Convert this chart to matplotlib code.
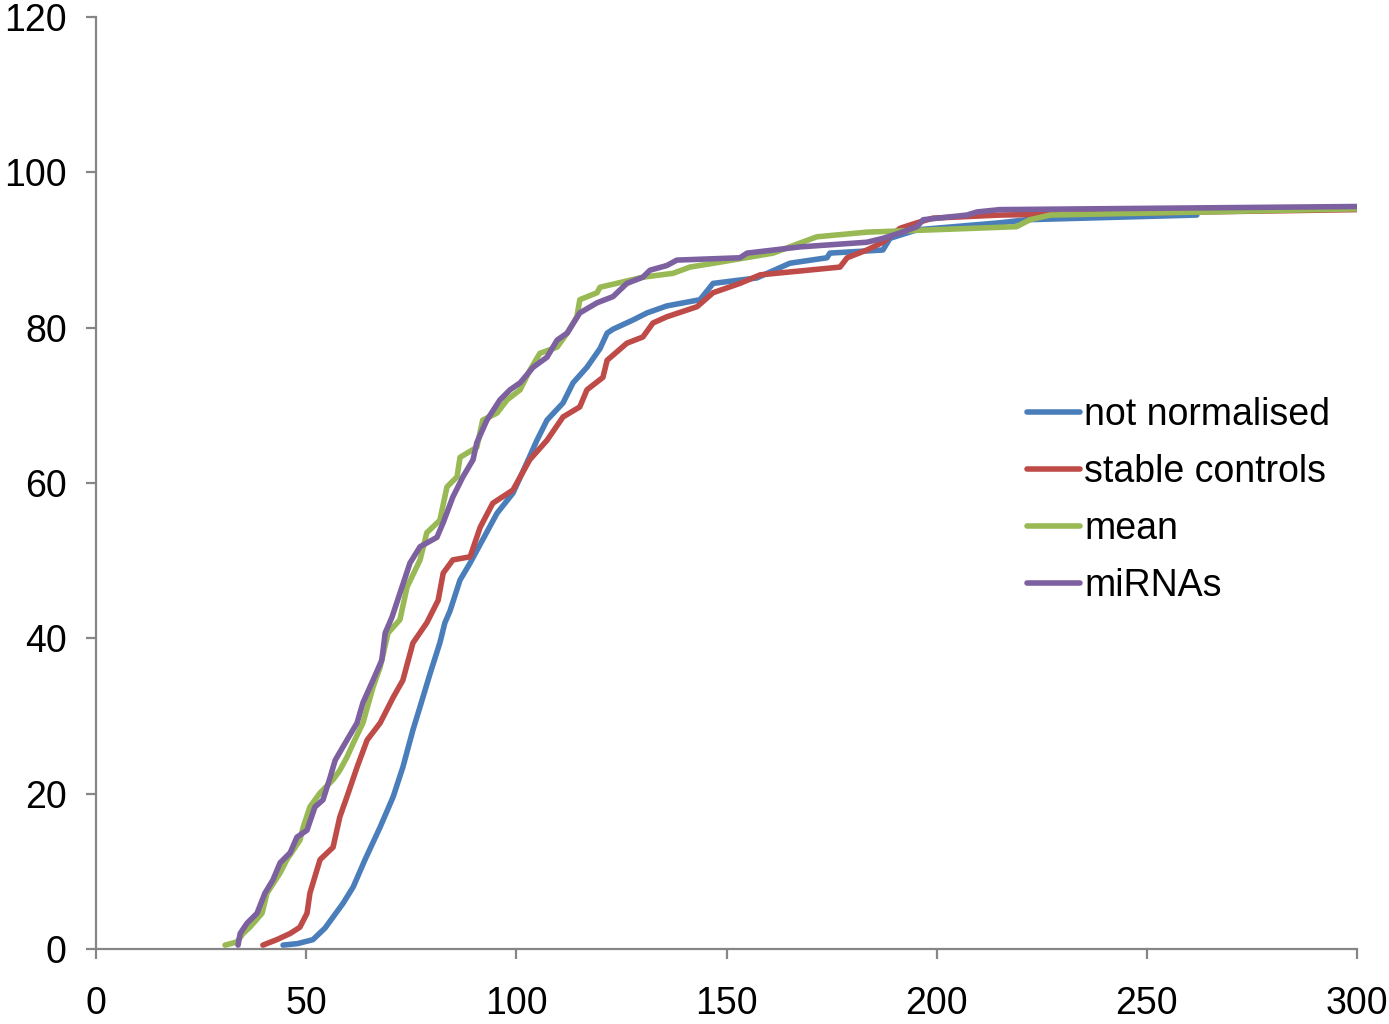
import matplotlib
matplotlib.use("Agg")
import matplotlib.pyplot as plt

# ---- data ----
labels = ["not normalised", "stable controls", "mean", "miRNAs"]
colors = ["#4A7EBB", "#BE4B48", "#98B954", "#7D60A0"]

blue_x = [44.5, 48, 51.6, 54.5, 58.8, 61.2, 64, 67.6, 70.7, 73, 75.4, 77.1, 79.5, 81.8, 83, 84.2, 86.6,
          89, 92, 95.4, 99.2, 102.5, 104.9, 107.3, 111.1, 113.5, 116.8, 119.9, 121.6, 123, 127.8, 131.1,
          135.8, 143.7, 146.8, 157.2, 165.1, 173.9, 174.6, 187.2, 188.9, 195.3, 215, 221.5, 261.9]
blue_y = [0.5, 0.7, 1.2, 2.7, 5.9, 8.0, 11.5, 15.7, 19.6, 23.4, 28.2, 31.2, 35.5, 39.4, 42.0, 43.5, 47.5,
          49.7, 52.7, 56.1, 58.7, 62.6, 65.5, 68.1, 70.3, 72.9, 74.9, 77.3, 79.3, 79.8, 81.0, 81.9,
          82.8, 83.6, 85.7, 86.4, 88.3, 89.0, 89.6, 90.0, 91.5, 92.6, 93.5, 93.9, 94.5]

red_x = [39.7, 43, 46.2, 48.5, 50.2, 50.9, 53.3, 56.4, 58, 59.7, 62.1, 64.5, 67.6, 70.7, 73, 75.4, 78.7,
         81.4, 82.6, 84.9, 89, 91.4, 94.4, 99.2, 103.2, 107.3, 111.1, 115.1, 116.8, 120.6, 121.6, 126.3,
         130.1, 132.5, 135.8, 143, 146.8, 153.2, 158, 177, 178.7, 183.4, 187.2, 191.3, 195.3, 199.1, 215, 300]
red_y = [0.5, 1.2, 2.0, 2.8, 4.6, 7.2, 11.5, 13.1, 17.0, 19.6, 23.4, 26.9, 29.1, 32.4, 34.6, 39.4, 42.0,
         44.9, 48.4, 50.1, 50.5, 54.3, 57.4, 59.1, 63.0, 65.5, 68.5, 69.8, 72.0, 73.6, 75.8, 78.0,
         78.8, 80.6, 81.4, 82.7, 84.5, 85.7, 86.8, 87.8, 89.0, 90.0, 91.0, 92.8, 93.5, 94.1, 94.5, 95.2]

green_x = [30.7, 33.5, 35, 36.6, 39.5, 40.7, 43.8, 45.4, 48.5, 49.3, 50.9, 53.3, 56.4, 58, 59.7, 61.2,
           63.5, 65.9, 67.6, 69.5, 72.3, 74, 77.1, 78.7, 81.8, 83.5, 85.9, 86.6, 90.6, 92, 95.4, 97.8,
           100.9, 103.2, 105.6, 109.7, 112.1, 114.4, 115.1, 119.2, 119.9, 130.1, 137.3, 141.3, 149.2,
           161.1, 167.5, 171.5, 183.4, 199.1, 219, 222.2, 227, 300]
green_y = [0.5, 0.9, 2.0, 2.8, 4.6, 7.2, 9.8, 11.5, 14.0, 15.7, 18.3, 20.1, 21.8, 23.0, 24.7, 26.5,
           29.1, 33.7, 36.3, 40.7, 42.4, 46.6, 50.1, 53.6, 55.2, 59.5, 60.8, 63.3, 64.6, 68.1, 69.0, 70.7,
           72.0, 74.5, 76.7, 77.5, 79.3, 81.4, 83.6, 84.5, 85.2, 86.5, 87.0, 87.8, 88.5,
           89.6, 90.9, 91.7, 92.3, 92.6, 93.0, 93.9, 94.5, 95.3]

purple_x = [33.8, 34.3, 35.9, 38.3, 40.2, 42.1, 43.8, 46.2, 47.8, 50.2, 52.1, 54, 55.7, 56.9, 59.7, 62.1,
            63.5, 65.9, 68, 68.8, 70.4, 72.3, 74.7, 77.1, 81.1, 82.6, 84.9, 87.3, 89.7, 90.6, 93, 96.1,
            98.5, 100.9, 104, 107.3, 109.7, 112.1, 115.1, 119.2, 123, 126.3, 130.1, 131.8, 135.8, 138.2,
            153.2, 154.9, 167.5, 183.4, 187.2, 191.3, 195.3, 196.8, 207.2, 209.6, 215, 300]
purple_y = [0.5, 2.0, 3.3, 4.6, 7.2, 8.9, 11.1, 12.4, 14.4, 15.3, 18.3, 19.2, 22.1, 24.3, 26.9, 29.1,
            31.7, 34.6, 37.2, 40.7, 42.7, 45.8, 49.7, 51.8, 53.0, 54.9, 58.2, 60.8, 63.0, 65.2, 68.1, 70.7,
            72.0, 72.9, 74.9, 76.2, 78.4, 79.3, 81.9, 83.2, 84.0, 85.7, 86.5, 87.4, 88.0, 88.7,
            89.0, 89.6, 90.4, 91.0, 91.5, 92.2, 93.0, 93.9, 94.5, 94.9, 95.2, 95.6]

x_ticks = [0, 50, 100, 150, 200, 250, 300]
y_ticks = [0, 20, 40, 60, 80, 100, 120]

# ---- figure ----
plt.rcParams['font.family'] = ['Liberation Sans', 'DejaVu Sans']
fig = plt.figure(figsize=(13.89, 10.24), dpi=100)
ax = fig.add_axes([96/1389, 75/1024, (1357-96)/1389, (949-17)/1024])

series = [(blue_x, blue_y), (red_x, red_y), (green_x, green_y), (purple_x, purple_y)]
for (xs, ys), c, lab in zip(series, colors, labels):
    ax.plot(xs, ys, color=c, lw=4.0, label=lab, solid_capstyle='round', solid_joinstyle='round')

ax.set_xlim(0, 300)
ax.set_ylim(0, 120)
ax.set_xticks(x_ticks)
ax.set_yticks(y_ticks)
ax.set_xticklabels([str(v) for v in x_ticks])
ax.set_yticklabels([str(v) for v in y_ticks])

for s in ['top', 'right']:
    ax.spines[s].set_visible(False)
for s in ['left', 'bottom']:
    ax.spines[s].set_color('#868686')
    ax.spines[s].set_linewidth(1.6)

ax.tick_params(axis='both', colors='#868686', labelcolor='black', labelsize=27,
               length=7, width=1.6, direction='out')
ax.tick_params(axis='x', pad=20)
ax.tick_params(axis='y', pad=14)

leg = ax.legend(loc='upper left', bbox_to_anchor=((1027-96)/1261, (949-397)/932),
                frameon=False, fontsize=27, handlelength=1.4, handletextpad=0.12,
                labelspacing=0.56, borderpad=0, borderaxespad=0)

fig.savefig("out.png", dpi=100)
